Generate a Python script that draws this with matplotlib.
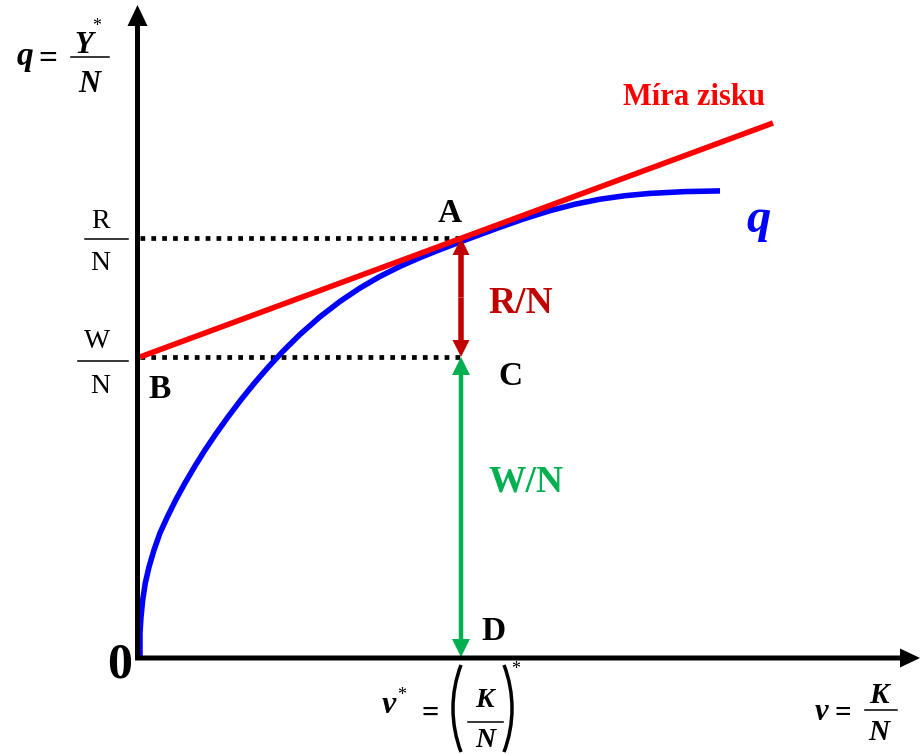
import numpy as np
import matplotlib
matplotlib.use('Agg')
import matplotlib.pyplot as plt
from matplotlib.patches import Arc

# production function q(v)
curve_v = [0, 0, 0.01, 0.027, 0.053, 0.09, 0.14, 0.20, 0.273, 0.357, 0.45, 0.55,
           0.65, 0.76, 0.88, 1.01, 1.14, 1.28, 1.43, 1.60, 1.80, 2.00, 2.20, 2.40,
           2.60, 2.80, 3.00, 3.21, 3.60, 3.85, 4.10, 4.35, 4.60, 4.85, 5.10, 5.45, 5.80]
curve_q = [0, 0.24, 0.40, 0.57, 0.74, 0.90, 1.07, 1.24, 1.40, 1.57, 1.74, 1.91,
           2.07, 2.233, 2.401, 2.573, 2.734, 2.896, 3.058, 3.226, 3.402, 3.556, 3.690,
           3.806, 3.906, 3.994, 4.074, 4.154, 4.298, 4.385, 4.463, 4.528, 4.578,
           4.613, 4.636, 4.654, 4.661]

# profit-rate line (tangent at A)
line_v = [0, 6.33]
line_q = [3.00, 5.34]

v_star = 3.21      # point A / D
RN = 4.19          # R/N level
WN = 3.00          # W/N level

BLUE = '#0000FF'
RED = '#FF0000'
DRED = '#C00000'
GREEN = '#00B050'
SERIF = 'Liberation Serif'

fig = plt.figure(figsize=(9.22, 7.54), dpi=100)
ax = fig.add_axes([0, 0, 1, 1])
ax.set_xlim(-1.40, 7.82)
ax.set_ylim(-0.97, 6.57)
ax.axis('off')

# axes with arrows
ax.arrow(-0.025, -0.025, 0, 6.545, width=0.05, head_width=0.20, head_length=0.21,
         length_includes_head=True, fc='k', ec='none', zorder=5)
ax.arrow(-0.05, -0.01, 7.85, 0, width=0.05, head_width=0.19, head_length=0.20,
         length_includes_head=True, fc='k', ec='none', zorder=5)

# dotted guides
ax.plot([0, v_star], [RN, RN], color='k', lw=3.4, dashes=(1, 1.3), zorder=2)
ax.plot([0, v_star], [WN, WN], color='k', lw=3.4, dashes=(1, 1.3), zorder=2)

# curve and line
ax.plot(curve_v, curve_q, color=BLUE, lw=4.0, solid_joinstyle='round',
        solid_capstyle='butt', zorder=3)
ax.plot(line_v, line_q, color=RED, lw=4.0, solid_capstyle='butt', zorder=4)

# double arrows
mid = (RN + WN) / 2
for tip in (RN, WN):
    ax.arrow(v_star, mid, 0, tip - mid, width=0.055, head_width=0.17,
             head_length=0.17, length_includes_head=True, fc=DRED, ec='none', zorder=3)
mid = WN / 2
for tip in (WN, 0):
    ax.arrow(v_star, mid, 0, tip - mid, width=0.045, head_width=0.18,
             head_length=0.18, length_includes_head=True, fc=GREEN, ec='none', zorder=3)


def lab(x, y, s, size, **kw):
    ax.text(x, y, s, fontsize=size, ha='center', va='baseline', family=SERIF, **kw)


# point labels
lab(3.10, 4.35, 'A', 24, weight='bold')
lab(0.20, 2.59, 'B', 24, weight='bold')
lab(3.70, 2.72, 'C', 24, weight='bold')
lab(3.53, 0.17, 'D', 24, weight='bold')
lab(-0.20, -0.20, '0', 36, weight='bold')
lab(3.81, 3.44, 'R/N', 27, weight='bold', color=DRED)
lab(3.86, 1.65, 'W/N', 27, weight='bold', color=GREEN)
lab(5.54, 5.52, 'Míra zisku', 22, weight='bold', color=RED)
lab(6.19, 4.25, 'q', 35, weight='bold', style='italic', color=BLUE)

# left fractions R/N and W/N
lab(-0.39, 4.29, 'R', 20)
ax.plot([-0.55, -0.12], [4.18, 4.18], color='k', lw=1.1)
lab(-0.40, 3.87, 'N', 20)
lab(-0.43, 3.09, 'W', 20)
ax.plot([-0.62, -0.12], [2.96, 2.96], color='k', lw=1.1)
lab(-0.40, 2.64, 'N', 20)

# y-axis title  q = Y*/N
lab(-1.15, 5.92, 'q', 24, weight='bold', style='italic')
lab(-0.92, 5.89, '=', 24, weight='bold')
lab(-0.56, 6.04, 'Y', 22, weight='bold', style='italic')
lab(-0.43, 6.26, '*', 13)
ax.plot([-0.69, -0.31], [6.00, 6.00], color='k', lw=1.1)
lab(-0.51, 5.65, 'N', 22, weight='bold', style='italic')

# bottom  v* = (K/N)*
lab(2.49, -0.56, 'v', 23, weight='bold', style='italic')
lab(2.62, -0.43, '*', 13)
lab(2.90, -0.65, '=', 22, weight='bold')
ax.add_patch(Arc((4.35, -0.515), 2.44, 2.44, theta1=159.1, theta2=200.9,
                 color='k', lw=2.5))
ax.add_patch(Arc((2.50, -0.515), 2.44, 2.44, theta1=-20.9, theta2=20.9,
                 color='k', lw=2.5))
lab(3.44, -0.50, 'K', 20, weight='bold', style='italic')
ax.plot([3.28, 3.63], [-0.65, -0.65], color='k', lw=1.1)
lab(3.45, -0.90, 'N', 20, weight='bold', style='italic')
lab(3.76, -0.17, '*', 13)

# x-axis title  v = K/N
lab(6.81, -0.63, 'v', 22, weight='bold', style='italic')
lab(7.03, -0.64, '=', 21, weight='bold')
lab(7.39, -0.46, 'K', 21, weight='bold', style='italic')
ax.plot([7.25, 7.57], [-0.53, -0.53], color='k', lw=1.1)
lab(7.39, -0.83, 'N', 21, weight='bold', style='italic')

fig.savefig('out.png', dpi=100)
